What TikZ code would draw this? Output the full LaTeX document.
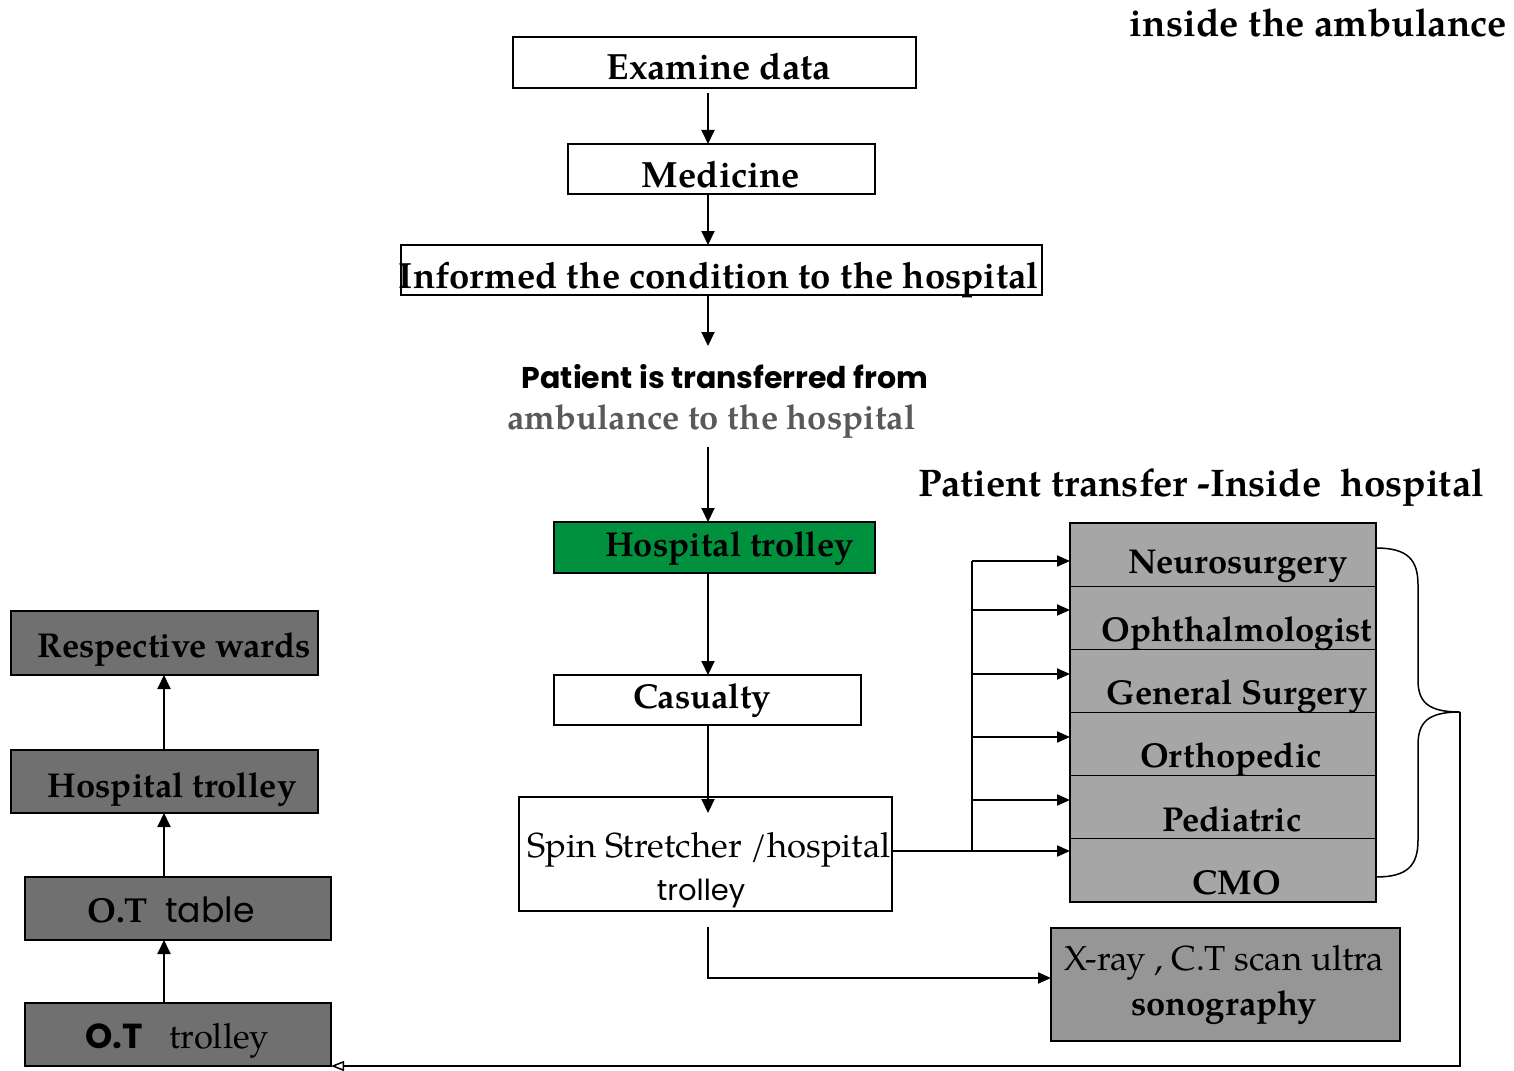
\documentclass[tikz,border=0pt]{standalone}
\usepackage{fontspec}
\setmainfont{texgyrepagella}[Extension=.otf, UprightFont=*-regular, BoldFont=*-bold, ItalicFont=*-italic, BoldItalicFont=*-bolditalic]
\newfontfamily\gothic{Poppins}
\usetikzlibrary{arrows.meta}
\definecolor{hgreen}{RGB}{0,145,63}
\definecolor{lgray}{RGB}{166,166,166}
\definecolor{mgray}{RGB}{150,150,150}
\definecolor{dgray}{RGB}{112,112,112}
\definecolor{tgray}{RGB}{89,89,89}
\tikzset{
  box/.style={draw=black, line width=1.2pt, inner sep=0pt, outer sep=0pt},
  lbl/.style={inner sep=0pt, anchor=base, font=\fontsize{34.5}{38}\selectfont\bfseries},
  biglbl/.style={inner sep=0pt, anchor=base, font=\fontsize{36.5}{40}\selectfont\bfseries},
  ttl/.style={inner sep=0pt, anchor=base, font=\fontsize{38.5}{42}\selectfont\bfseries},
  rlbl/.style={inner sep=0pt, anchor=base, font=\fontsize{34.7}{38}\selectfont},
  glbl/.style={inner sep=0pt, anchor=base, font=\fontsize{30}{34}\selectfont\gothic\bfseries},
  arr/.style={line width=2pt, -{Triangle[length=14pt,width=13pt]}},
  sarr/.style={line width=2pt, -{Triangle[length=13pt,width=11pt]}},
  ln/.style={line width=2pt},
}
\begin{document}
\begin{tikzpicture}[x=1pt,y=-1pt]
\useasboundingbox (0,0) rectangle (1514,1070);
\coordinate (cx) at (708,0);
% central column boxes
\node[box, minimum width=403pt, minimum height=51pt] (ex) at (714.5,62.5) {};
\node[box, minimum width=307pt, minimum height=50pt] (med) at (721.5,169) {};
\node[box, minimum width=641pt, minimum height=50pt] (inf) at (721.5,270) {};
\node[box, fill=hgreen, minimum width=321pt, minimum height=51pt] (htr) at (714.5,547.5) {};
\node[box, minimum width=307pt, minimum height=50pt] (cas) at (707.5,700) {};
\node[box, minimum width=373pt, minimum height=114pt] (spin) at (705.5,854) {};
% texts of central column
\node[biglbl] (tex) at (719,80) {Examine data};
\node[biglbl] (tmed) at (721,187) {Medicine};
\node[biglbl] (tinf) at (719,288) {Informed the condition to the hospital};
\node[glbl] (tpt1) at (725,388) {Patient is transferred from};
\node[lbl, text=tgray] (tpt2) at (711.5,429) {ambulance to the hospital};
\node[lbl] (thtr) at (729.5,556) {Hospital trolley};
\node[lbl] (tcas) at (702,708) {Casualty};
\node[rlbl] (tsp1) at (709,857) {Spin Stretcher /hospital};
\node[rlbl, font=\fontsize{29}{32}\selectfont\gothic] (tsp2) at (701,900) {trolley};
% titles
\node[ttl] (title1) at (1318.5,37) {inside the ambulance};
\node[ttl] (title2) at (1201.5,496) {Patient transfer -Inside\ \ hospital};
% central arrows
\coordinate (a3end) at (708,346);
\coordinate (a4start) at (708,447);
\draw[arr] ([yshift=-5pt]ex.south -| cx) -- (med.north -| cx);
\draw[arr] (med.south -| cx) -- (inf.north -| cx);
\draw[arr] (inf.south -| cx) -- (a3end);
\draw[arr] (a4start) -- (htr.north -| cx);
\draw[arr] (htr.south -| cx) -- (cas.north -| cx);
\draw[arr] (cas.south -| cx) -- ([yshift=-16pt]spin.north -| cx);
% department stack
\foreach \n/\i in {neu/0,oph/1,gen/2,ort/3,ped/4,cmo/5}{
  \node[box, fill=lgray, minimum width=306pt, minimum height=63.17pt] (\n) at (1223,{523+63.17*(\i+0.5)}) {};
}
\node[lbl] (tneu) at (1238,573) {Neurosurgery};
\node[lbl] (toph) at (1237,641) {Ophthalmologist};
\node[lbl] (tgen) at (1237,704) {General Surgery};
\node[lbl] (tort) at (1231,767) {Orthopedic};
\node[lbl] (tped) at (1232,831) {Pediatric};
\node[lbl] (tcmo) at (1237,894) {CMO};
% branch arrows
\foreach \k/\y in {1/561,2/610,3/674,4/737,5/800,6/851}{
  \coordinate (br\k) at (972,\y);
}
\draw[ln] (br1) -- (br6);
\draw[ln] (spin.east |- br6) -- (br6);
\foreach \k/\n in {1/neu,2/oph,3/gen,4/ort,5/ped,6/cmo}{
  \draw[sarr] (br\k) -- (br\k -| \n.west);
}
% x-ray box
\node[box, fill=mgray, minimum width=349pt, minimum height=113pt] (xr) at (1225.5,984.5) {};
\node[rlbl] (txr1) at (1224,970) {X-ray , C.T scan ultra};
\node[lbl] (txr2) at (1224,1015) {sonography};
\coordinate (xrs) at (708,927);
\draw[sarr] (xrs) |- (xr.west |- 0,978);
% brace
\coordinate (tip) at (1460,712);
\draw[line width=1.5pt] (1376,548) .. controls (1408,548) and (1418,560) .. (1418,585)
  -- (1418,680) .. controls (1418,702) and (1428,712) .. (tip)
  .. controls (1428,712) and (1418,722) .. (1418,745)
  -- (1418,840) .. controls (1418,865) and (1408,877) .. (1376,877);
% left column
\node[box, fill=dgray, minimum width=307pt, minimum height=64pt] (rw) at (164.5,643) {};
\node[box, fill=dgray, minimum width=307pt, minimum height=63pt] (lht) at (164.5,781.5) {};
\node[box, fill=dgray, minimum width=306pt, minimum height=63pt] (ott) at (178,908.5) {};
\node[box, fill=dgray, minimum width=306pt, minimum height=63pt] (otr) at (178,1034.5) {};
\node[lbl] (trw) at (174,657) {Respective wards};
\node[lbl] (tlht) at (172,797) {Hospital trolley};
\node[rlbl] (tott) at (171,922) {\textbf{O.T}\ \ {\gothic table}};
\node[rlbl] (totr) at (177,1048) {{\gothic\bfseries O.T}\ \ \ trolley};
\coordinate (lx) at (164,0);
\draw[arr] (lht.north -| lx) -- (rw.south -| lx);
\draw[arr] (ott.north -| lx) -- (lht.south -| lx);
\draw[arr] (otr.north -| lx) -- (ott.south -| lx);
% return line
\draw[line width=1.5pt, -{Triangle[open,length=13pt,width=10pt]}] (tip) -- (1460,1066) -- (otr.south east);
\end{tikzpicture}
\end{document}
